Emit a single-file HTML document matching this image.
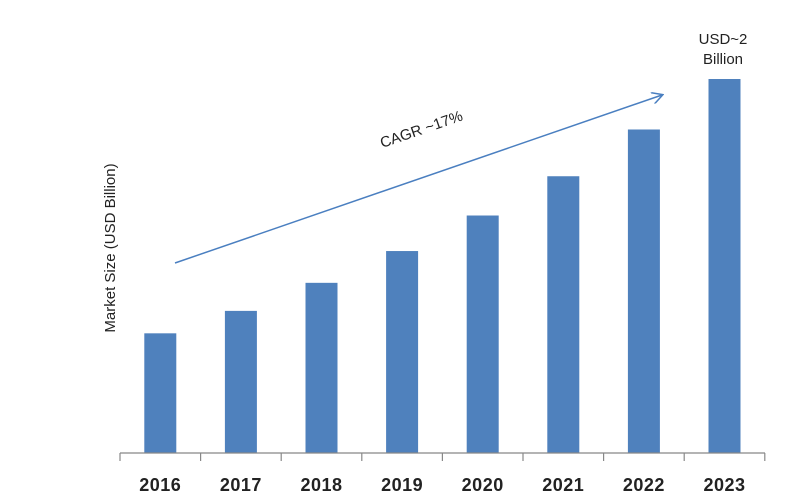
<!DOCTYPE html>
<html><head><meta charset="utf-8"><style>
body{margin:0;background:#fff;}
svg{display:block;font-family:"Liberation Sans",Arial,sans-serif;}
</style></head><body>
<svg id="chart" width="800" height="500">
<defs><marker id="ah" markerWidth="12" markerHeight="12" refX="10" refY="6" orient="auto" markerUnits="userSpaceOnUse"><path d="M0,0 L11,6 L0,12" fill="none" stroke="#4a7fc0" stroke-width="1.5"/></marker></defs>
<text x="115" y="248" transform="rotate(-90 115 248)" text-anchor="middle" font-size="15" fill="#222">Market Size (USD Billion)</text>
<g id="bars"></g>
<line x1="120" y1="453" x2="765" y2="453" stroke="#888" stroke-width="1.2"/>
<g id="ticks"></g>
<line x1="175" y1="263" x2="662" y2="95" stroke="#4a7fc0" stroke-width="1.5" marker-end="url(#ah)"/>
<text x="423" y="134" transform="rotate(-19 423 134)" text-anchor="middle" font-size="15" fill="#222">CAGR ~17%</text>
<text x="723" y="44" text-anchor="middle" font-size="15" fill="#222">USD~2</text>
<text x="723" y="64" text-anchor="middle" font-size="15" fill="#222">Billion</text>
</svg>
<script>
const categories=["2016","2017","2018","2019","2020","2021","2022","2023"];
const values=[0.64,0.76,0.91,1.08,1.27,1.48,1.73,2.0];
const x0=120,step=80.6,base=453,pxPerUnit=187;
function xCenter(i){return x0+step*(i+0.5);}
function yScale(v){return base-v*pxPerUnit;}
const ns="http://www.w3.org/2000/svg";
const bars=document.getElementById("bars"),ticks=document.getElementById("ticks");
categories.forEach((c,i)=>{
 const r=document.createElementNS(ns,"rect");
 r.setAttribute("x",xCenter(i)-16);r.setAttribute("width",32);
 r.setAttribute("y",yScale(values[i]));r.setAttribute("height",base-yScale(values[i]));
 r.setAttribute("fill","#4f81bd");
 
 
 bars.appendChild(r);
 const t=document.createElementNS(ns,"text");
 t.setAttribute("x",xCenter(i));t.setAttribute("y",491);t.setAttribute("text-anchor","middle");
 t.setAttribute("font-size","18");t.setAttribute("font-weight","bold");t.setAttribute("fill","#222");
 t.setAttribute("letter-spacing","0.5");
 t.textContent=c;
 
 
 ticks.appendChild(t);
});
for(let i=0;i<=categories.length;i++){
 const l=document.createElementNS(ns,"line");
 const x=x0+step*i;
 l.setAttribute("x1",x);l.setAttribute("x2",x);l.setAttribute("y1",453);l.setAttribute("y2",461);
 l.setAttribute("stroke","#888");l.setAttribute("stroke-width","1.2");
 
 
 ticks.appendChild(l);
}
</script>
</body></html>
